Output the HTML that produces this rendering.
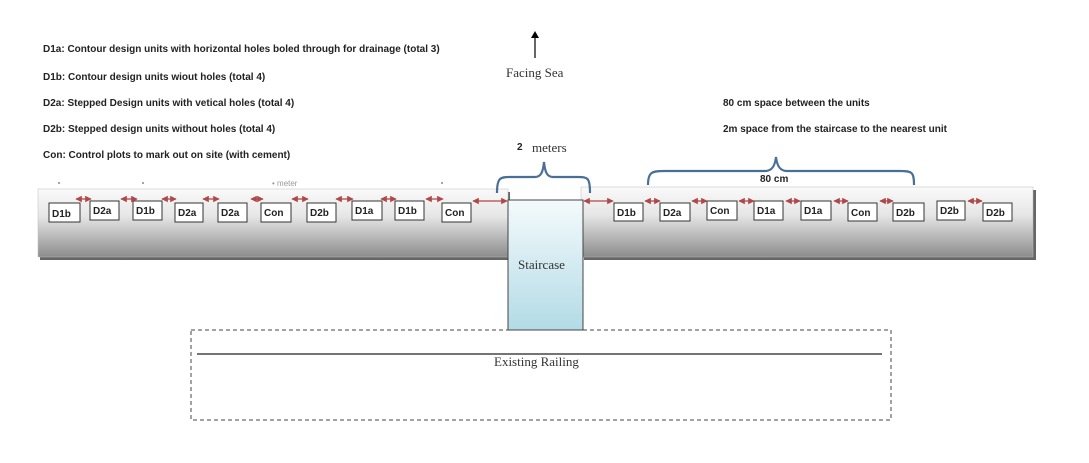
<!DOCTYPE html>
<html><head><style>
body{margin:0;background:#fff;}
svg{display:block;}
.t{font-family:"Liberation Sans",sans-serif;font-size:10px;font-weight:bold;fill:#222;}
.s{font-family:"Liberation Serif",serif;font-size:13px;fill:#333;}
.b{font-family:"Liberation Sans",sans-serif;font-size:10px;font-weight:bold;fill:#222;}
</style></head><body>
<svg width="1089" height="463" viewBox="0 0 1089 463" xmlns="http://www.w3.org/2000/svg">
<defs>
<linearGradient id="g" x1="0" y1="0" x2="0" y2="1">
<stop offset="0" stop-color="#fafafa"/><stop offset="0.4" stop-color="#e6e6e6"/><stop offset="1" stop-color="#8c8c8c"/>
</linearGradient>
<linearGradient id="st" x1="0" y1="0" x2="0" y2="1">
<stop offset="0" stop-color="#f4fafc"/><stop offset="1" stop-color="#b3dbe6"/>
</linearGradient>
<marker id="a" viewBox="0 0 10 10" refX="9" refY="5" markerWidth="5" markerHeight="5" orient="auto-start-reverse"><path d="M0,0L10,5L0,10z" fill="#b04848"/></marker>
</defs>
<text class="t" x="43" y="52">D1a: Contour design units with horizontal holes boled through for drainage (total 3)</text>
<text class="t" x="43" y="80">D1b: Contour design units wiout holes (total 4)</text>
<text class="t" x="43" y="106">D2a: Stepped Design units with vetical holes (total 4)</text>
<text class="t" x="43" y="132">D2b: Stepped design units without holes (total 4)</text>
<text class="t" x="43" y="158">Con: Control plots to mark out on site (with cement)</text>
<line x1="535" y1="58" x2="535" y2="34" stroke="#000" stroke-width="1.2"/>
<path d="M531,38L535,31L539,38z" fill="#000"/>
<text class="s" x="506" y="77">Facing Sea</text>
<text class="t" x="723" y="106">80 cm space between the units</text>
<text class="t" x="723" y="132">2m space from the staircase to the nearest unit</text>
<text class="b" x="517" y="150">2</text><text class="s" x="532" y="152">meters</text>
<text class="t" x="760" y="182">80 cm</text>
<g fill="#888"><circle cx="59" cy="183" r="1"/><circle cx="143" cy="183" r="1"/><circle cx="442" cy="183" r="1"/></g>
<text x="272" y="186" font-family="Liberation Sans,sans-serif" font-size="8" fill="#999">• meter</text>
<!-- bars -->
<rect x="40" y="192" width="470" height="68" fill="#666"/>
<rect x="38" y="189" width="470" height="68" fill="url(#g)" stroke="#bbb" stroke-width="0.5"/>
<rect x="584" y="190" width="452" height="70" fill="#666"/>
<rect x="581" y="187" width="452" height="70" fill="url(#g)" stroke="#bbb" stroke-width="0.5"/>
<!-- staircase -->
<rect x="508" y="200" width="75" height="130" fill="url(#st)" stroke="#444" stroke-width="1"/>
<text class="s" x="518" y="269">Staircase</text>
<!-- braces -->
<path d="M497,193 C497,178 500,177 510,177 L535,177 C541,177 543,172 544,162 C545,172 547,177 553,177 L578,177 C588,177 590,178 590,193" fill="none" stroke="#4a6f96" stroke-width="2.2"/>
<path d="M648,185 C648,172 652,171 664,171 L765,171 C772,171 775,166 776,157 C777,166 780,171 787,171 L900,171 C912,171 914,172 914,185" fill="none" stroke="#4a6f96" stroke-width="2.2"/>
<!-- boxes -->
<g font-family="Liberation Sans,sans-serif" font-size="10" font-weight="bold" fill="#222" stroke="none">
<g stroke="#333" stroke-width="1" fill="#fff">
<rect x="49" y="203" width="31" height="19"/><rect x="90" y="201" width="29" height="19"/><rect x="133" y="201" width="29" height="19"/><rect x="175" y="203" width="28" height="19"/><rect x="218" y="203" width="29" height="19"/><rect x="261" y="203" width="30" height="19"/><rect x="307" y="203" width="29" height="19"/><rect x="352" y="201" width="30" height="19"/><rect x="395" y="201" width="29" height="19"/><rect x="442" y="203" width="29" height="19"/>
<rect x="614" y="203" width="29" height="18"/><rect x="660" y="203" width="30" height="18"/><rect x="707" y="201" width="30" height="19"/><rect x="754" y="201" width="29" height="19"/><rect x="801" y="201" width="30" height="19"/><rect x="848" y="203" width="29" height="18"/><rect x="893" y="203" width="31" height="18"/><rect x="937" y="201" width="28" height="19"/><rect x="983" y="203" width="29" height="18"/>
</g>
<text x="52" y="217">D1b</text><text x="93" y="214">D2a</text><text x="136" y="214">D1b</text><text x="178" y="216">D2a</text><text x="221" y="216">D2a</text><text x="264" y="216">Con</text><text x="310" y="216">D2b</text><text x="355" y="214">D1a</text><text x="398" y="214">D1b</text><text x="445" y="216">Con</text>
<text x="617" y="216">D1b</text><text x="663" y="216">D2a</text><text x="710" y="214">Con</text><text x="757" y="214">D1a</text><text x="804" y="214">D1a</text><text x="851" y="216">Con</text><text x="896" y="216">D2b</text><text x="940" y="214">D2b</text><text x="986" y="216">D2b</text>
</g>
<!-- arrows -->
<g stroke="#b04848" stroke-width="1.3" marker-start="url(#a)" marker-end="url(#a)">
<line x1="76" y1="199" x2="91" y2="199"/><line x1="121" y1="199" x2="137" y2="199"/><line x1="162" y1="199" x2="176" y2="199"/><line x1="203" y1="199" x2="219" y2="199"/><line x1="251" y1="199" x2="263" y2="199"/><line x1="292" y1="199" x2="308" y2="199"/><line x1="336" y1="199" x2="353" y2="199"/><line x1="381" y1="199" x2="396" y2="199"/><line x1="426" y1="199" x2="443" y2="199"/><line x1="473" y1="201" x2="507" y2="201"/>
<line x1="584" y1="201" x2="613" y2="201"/><line x1="645" y1="201" x2="660" y2="201"/><line x1="692" y1="201" x2="707" y2="201"/><line x1="739" y1="201" x2="754" y2="201"/><line x1="786" y1="201" x2="800" y2="201"/><line x1="834" y1="201" x2="848" y2="201"/><line x1="880" y1="201" x2="893" y2="201"/><line x1="968" y1="201" x2="982" y2="201"/>
</g>
<!-- railing -->
<rect x="191" y="330" width="700" height="90" fill="none" stroke="#444" stroke-width="1" stroke-dasharray="4,3"/>
<line x1="197" y1="354" x2="882" y2="354" stroke="#222" stroke-width="1.3"/>
<text class="s" x="494" y="366">Existing Railing</text>
</svg>
</body></html>
